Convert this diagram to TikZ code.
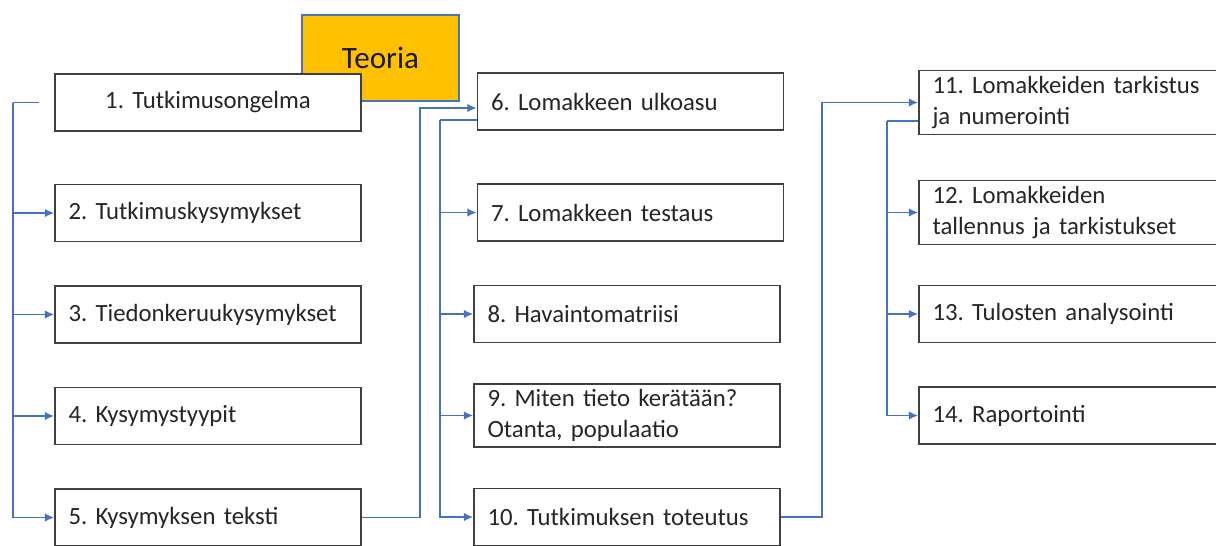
\documentclass[tikz,border=0pt]{standalone}
\usepackage{fontspec}
\setmainfont{Carlito}
\usepackage{tikz}
\usetikzlibrary{arrows.meta}
\definecolor{teoriaorange}{HTML}{FFC000}
\definecolor{linkblue}{HTML}{4472C4}
\definecolor{boxgray}{HTML}{404040}
\tikzstyle{theory} = [rectangle, minimum width=3.14cm, minimum height=1.72cm, text centered, draw=linkblue, line width=0.6pt, fill=teoriaorange, text=black!90, font=\fontsize{17.7}{21}\selectfont]
\tikzstyle{stepbox} = [rectangle, minimum height=1.14cm, text width=5.58cm, inner xsep=0.27cm, align=left, draw=boxgray, line width=0.8pt, fill=white, text=black!85, font=\fontsize{14.1}{17.3}\selectfont\frenchspacing]
\tikzstyle{arrow} = [draw=linkblue, line width=1pt, -{Latex[length=0.19cm,width=0.17cm]}]
\tikzstyle{link} = [draw=linkblue, line width=1pt]

\begin{document}
\begin{tikzpicture}[node distance=2.03cm]
        \clip (0,0) rectangle (24.32,-10.9);
        % Nodes
        \node (teoria) [theory] at (7.61,-1.16) {Teoria};
        \node (b1) [stepbox, align=center] at (4.16,-2.05) {1. Tutkimusongelma};
        \node (b2) [stepbox, below of=b1, yshift=-0.18cm] {2. Tutkimuskysymykset};
        \node (b3) [stepbox, below of=b2] {3. Tiedonkeruukysymykset};
        \node (b4) [stepbox, below of=b3] {4. Kysymystyypit};
        \node (b5) [stepbox, below of=b4] {5. Kysymyksen teksti};
        \node (b6) [stepbox] at (12.61,-2.03) {6. Lomakkeen ulkoasu};
        \node (b7) [stepbox, below of=b6, yshift=-0.19cm] {7. Lomakkeen testaus};
        \node (b8) [stepbox, below of=b7, xshift=-0.07cm] {8. Havaintomatriisi};
        \node (b9) [stepbox, below of=b8] {9. Miten tieto kerätään?\\Otanta, populaatio};
        \node (b10) [stepbox, below of=b9] {10. Tutkimuksen toteutus};
        \node (b11) [stepbox] at (21.44,-2.05) {11. Lomakkeiden tarkistus\\ja numerointi};
        \node (b12) [stepbox, below of=b11, yshift=-0.17cm] {12. Lomakkeiden\\tallennus ja tarkistukset};
        \node (b13) [stepbox, below of=b12] {13. Tulosten analysointi};
        \node (b14) [stepbox, below of=b13] {14. Raportointi};

        % Arrows
        \coordinate (c1) at ([xshift=-0.3cm]b1.west);
        \coordinate (t1) at ([xshift=-0.82cm]b1.west);
        \draw [link] (c1) -- (t1);
        \foreach \n in {b2,b3,b4,b5}
            \draw [arrow] (t1) |- (\n);
        \draw [arrow] (b5.east) -- ++(1.16,0) |- ([yshift=-0.13cm]b6.west);

        \coordinate (c6) at ([yshift=-0.37cm]b6.west);
        \coordinate (t6) at ([xshift=-0.74cm]c6);
        \draw [link] (c6) -- (t6);
        \foreach \n in {b7,b8,b9,b10}
            \draw [arrow] (t6) |- (\n);
        \draw [arrow] (b10.east) -- ++(0.82,0) |- (b11.west);

        \coordinate (c11) at ([yshift=-0.37cm]b11.west);
        \coordinate (t11) at ([xshift=-0.62cm]c11);
        \draw [link] (c11) -- (t11);
        \foreach \n in {b12,b13,b14}
            \draw [arrow] (t11) |- (\n);
\end{tikzpicture}
\end{document}
